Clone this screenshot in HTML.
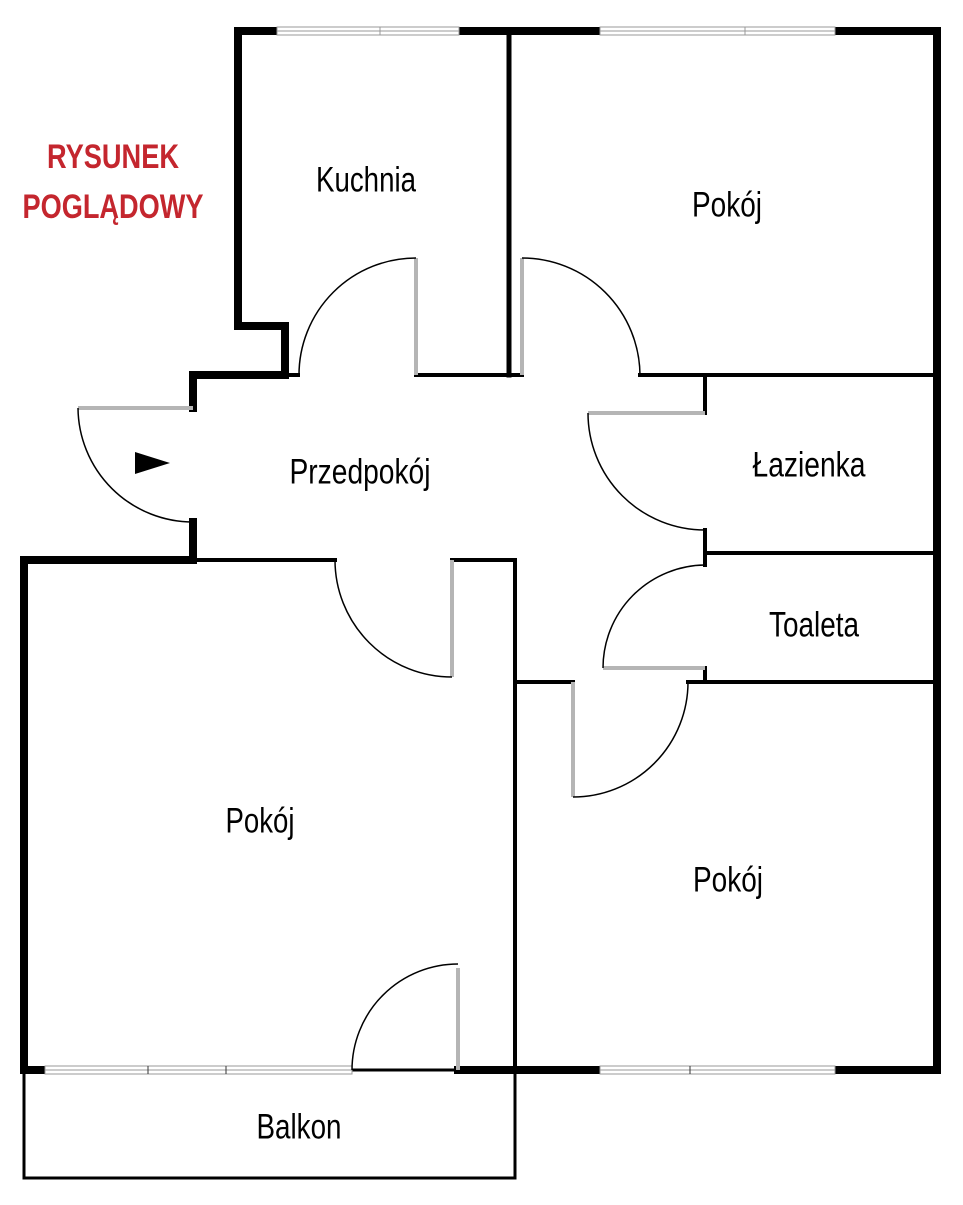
<!DOCTYPE html>
<html><head><meta charset="utf-8"><style>
body{margin:0;background:#fff;}
svg text{font-family:"Liberation Sans Narrow","Liberation Sans",sans-serif;text-anchor:middle;dominant-baseline:middle;}
</style></head><body>
<svg width="963" height="1200" viewBox="0 0 963 1200" xmlns="http://www.w3.org/2000/svg">
<g stroke="#000" fill="none" stroke-linecap="square">
<path d="M277 31 H238 V326 H285 V375" stroke-width="8"/>
<path d="M459 31 H600" stroke-width="8"/>
<path d="M835 31 H937 V1070 H835" stroke-width="8"/>
<path d="M285 375 H193 V408" stroke-width="8"/>
<path d="M193 522 V560 H24 V1070 H45" stroke-width="8"/>
<path d="M458 1070 H600" stroke-width="8"/>
<path d="M509 31 V375" stroke-width="5"/>
<path d="M285 375 H298 M416 375 H522 M640 375 H937" stroke-width="4"/>
<path d="M705 375 V413 M705 530 V565 M705 668 V682" stroke-width="4"/>
<path d="M705 553 H937" stroke-width="4"/>
<path d="M515 682 H573 M688 682 H937" stroke-width="4"/>
<path d="M193 560 H335 M452 560 H515 V1070" stroke-width="4"/>
<rect x="24" y="1070" width="491" height="108" stroke-width="3"/>
</g>
<g fill="#fff" stroke="#999" stroke-width="1">
<rect x="277" y="27" width="182" height="8"/><line x1="277" y1="31" x2="459" y2="31"/><line x1="380" y1="27" x2="380" y2="35"/>
<rect x="600" y="27" width="235" height="8"/><line x1="600" y1="31" x2="835" y2="31"/><line x1="745" y1="27" x2="745" y2="35"/>
<rect x="45" y="1066" width="307" height="8"/><line x1="45" y1="1070" x2="352" y2="1070"/><line x1="148" y1="1066" x2="148" y2="1074" stroke="#333"/><line x1="226" y1="1066" x2="226" y2="1074" stroke="#333"/>
<rect x="600" y="1066" width="235" height="8"/><line x1="600" y1="1070" x2="835" y2="1070"/><line x1="690" y1="1066" x2="690" y2="1074" stroke="#333"/>
</g>
<g stroke="#b5b5b5" stroke-width="4">
<line x1="416" y1="258" x2="416" y2="375"/>
<line x1="522" y1="258" x2="522" y2="375"/>
<line x1="588" y1="413" x2="705" y2="413"/>
<line x1="603" y1="668" x2="705" y2="668"/>
<line x1="78" y1="408" x2="193" y2="408"/>
<line x1="452" y1="560" x2="452" y2="677"/>
<line x1="573" y1="682" x2="573" y2="797"/>
<line x1="458" y1="968" x2="458" y2="1070"/>
</g>
<g stroke="#000" stroke-width="1.5" fill="none">
<path d="M416 258 A117 117 0 0 0 299 375"/>
<path d="M522 258 A118 118 0 0 1 640 375"/>
<path d="M588 413 A117 117 0 0 0 705 530"/>
<path d="M603 668 A103 103 0 0 1 705 565"/>
<path d="M78 408 A115 115 0 0 0 193 522"/>
<path d="M335 560 A117 117 0 0 0 452 677"/>
<path d="M688 682 A115 115 0 0 1 573 797"/>
<path d="M352 1070 A106 106 0 0 1 458 964"/>
</g>
<polygon points="135,452 170,463 135,474" fill="#000"/>
<g font-size="35" fill="#000" lengthAdjust="spacingAndGlyphs">
<text x="366" y="182" textLength="100" lengthAdjust="spacingAndGlyphs">Kuchnia</text>
<text x="727" y="207" textLength="70" lengthAdjust="spacingAndGlyphs">Pokój</text>
<text x="360" y="474" textLength="141" lengthAdjust="spacingAndGlyphs">Przedpokój</text>
<text x="809" y="467" textLength="113" lengthAdjust="spacingAndGlyphs">Łazienka</text>
<text x="814" y="627" textLength="90" lengthAdjust="spacingAndGlyphs">Toaleta</text>
<text x="260" y="823" textLength="69" lengthAdjust="spacingAndGlyphs">Pokój</text>
<text x="728" y="882" textLength="70" lengthAdjust="spacingAndGlyphs">Pokój</text>
<text x="299" y="1129" textLength="85" lengthAdjust="spacingAndGlyphs">Balkon</text>
</g>
<g font-size="34" font-weight="bold" fill="#c4262e">
<text x="113" y="159" textLength="132" lengthAdjust="spacingAndGlyphs">RYSUNEK</text>
<text x="113" y="209" textLength="181" lengthAdjust="spacingAndGlyphs">POGLĄDOWY</text>
</g>
</svg>
</body></html>
